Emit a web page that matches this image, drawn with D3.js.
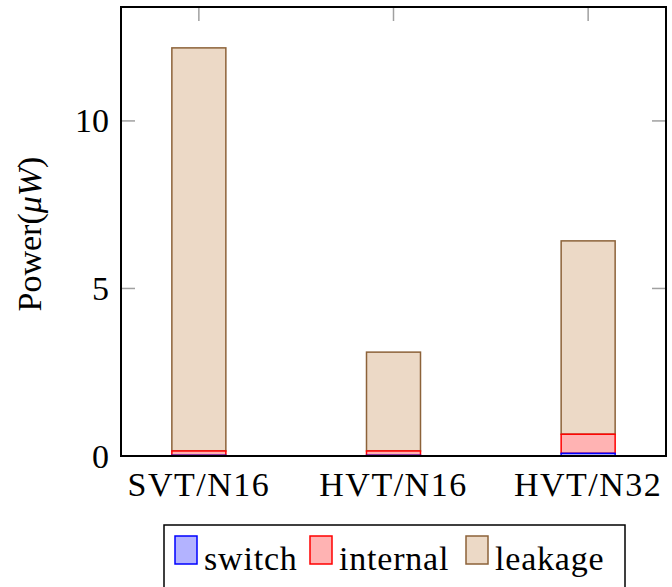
<!DOCTYPE html>
<html>
<head>
<meta charset="utf-8">
<script src="https://cdn.jsdelivr.net/npm/d3@7"></script>
<style>
  body { margin: 0; background: #fff; }
</style>
</head>
<body>
<div id="chart"></div>
<script>
// data (micro watts)
const categories = ["SVT/N16", "HVT/N16", "HVT/N32"];
const switchPower = [0.02, 0.02, 0.08];
const internalPower = [0.13, 0.13, 0.57];
const leakagePower = [12.03, 2.95, 5.77];
const yTicks = [0, 5, 10];

const seriesNames = ["switch", "internal", "leakage"];
const fills = ["#b3b3ff", "#ffb3b3", "#ecd9c6"];
const strokes = ["#0000ff", "#ff0000", "#8c6239"];

const width = 672, height = 587;
const plotL = 121, plotR = 666, plotT = 7, plotB = 456;
const fontSize = 34;
const font = "Liberation Serif";

const svg = d3.select("#chart").append("svg")
  .attr("width", width)
  .attr("height", height);

// x positions are indices, enlarged a bit on both sides like pgfplots
const x = d3.scaleLinear().domain([-0.4, 2.4]).range([plotL, plotR]);
const y = d3.scaleLinear().domain([0, 13.4]).range([plotB, plotT]);
const barW = 54;

// stack the series
const rows = categories.map((c, i) => ({
  cat: i, switch: switchPower[i], internal: internalPower[i], leakage: leakagePower[i]
}));
const stacked = d3.stack().keys(seriesNames)(rows);

// ticks (grey, inside, on all four sides)
const tickLen = 14;
const ticks = svg.append("g").attr("stroke", "#a0a0a0").attr("stroke-width", 1.5);
yTicks.forEach(t => {
  ticks.append("line").attr("x1", plotL).attr("x2", plotL + tickLen)
    .attr("y1", y(t)).attr("y2", y(t));
  ticks.append("line").attr("x1", plotR).attr("x2", plotR - tickLen)
    .attr("y1", y(t)).attr("y2", y(t));
});
categories.forEach((c, i) => {
  ticks.append("line").attr("x1", x(i)).attr("x2", x(i))
    .attr("y1", plotT).attr("y2", plotT + tickLen);
  ticks.append("line").attr("x1", x(i)).attr("x2", x(i))
    .attr("y1", plotB).attr("y2", plotB - tickLen);
});

// bars, top segment first so the thin bottom ones keep their outline
stacked.slice().reverse().forEach(s => {
  const k = s.index;
  svg.append("g")
    .selectAll("rect")
    .data(s)
    .enter().append("rect")
      .attr("x", d => x(d.data.cat) - barW / 2)
      .attr("width", barW)
      .attr("y", d => y(d[1]))
      .attr("height", d => y(d[0]) - y(d[1]))
      .attr("fill", fills[k])
      .attr("stroke", strokes[k])
      .attr("stroke-width", 1.5);
});

// axis frame
svg.append("rect")
  .attr("x", plotL).attr("y", plotT)
  .attr("width", plotR - plotL).attr("height", plotB - plotT)
  .attr("fill", "none").attr("stroke", "#000").attr("stroke-width", 2);

// tick labels
svg.append("g").selectAll("text")
  .data(yTicks)
  .enter().append("text")
    .attr("x", plotL - 12)
    .attr("y", d => y(d))
    .attr("dy", "0.34em")
    .attr("text-anchor", "end")
    .attr("font-family", font)
    .attr("font-size", fontSize)
    .text(d => d);

svg.append("g").selectAll("text")
  .data(categories)
  .enter().append("text")
    .attr("x", (d, i) => x(i))
    .attr("y", 496)
    .attr("text-anchor", "middle")
    .attr("font-family", font)
    .attr("font-size", fontSize)
    .attr("letter-spacing", 1.5)
    .text(d => d);

// y label
const yl = svg.append("text")
  .attr("transform", "translate(41,234) rotate(-90)")
  .attr("text-anchor", "middle")
  .attr("font-family", font)
  .attr("font-size", fontSize);
yl.append("tspan").text("Power(");
yl.append("tspan").attr("font-style", "italic").text("\u03bcW");
yl.append("tspan").text(")");

// legend
svg.append("rect")
  .attr("x", 164).attr("y", 525)
  .attr("width", 461).attr("height", 80)
  .attr("fill", "#fff").attr("stroke", "#000").attr("stroke-width", 1.5);

const legendX = [175, 310, 466];
seriesNames.forEach((n, k) => {
  svg.append("rect")
    .attr("x", legendX[k]).attr("y", 536)
    .attr("width", 22).attr("height", 28)
    .attr("fill", fills[k]).attr("stroke", strokes[k]).attr("stroke-width", 1.5);
  svg.append("text")
    .attr("x", legendX[k] + 29).attr("y", 570)
    .attr("font-family", font)
    .attr("font-size", fontSize)
    .attr("letter-spacing", 0.8)
    .text(n);
});
</script>
</body>
</html>
